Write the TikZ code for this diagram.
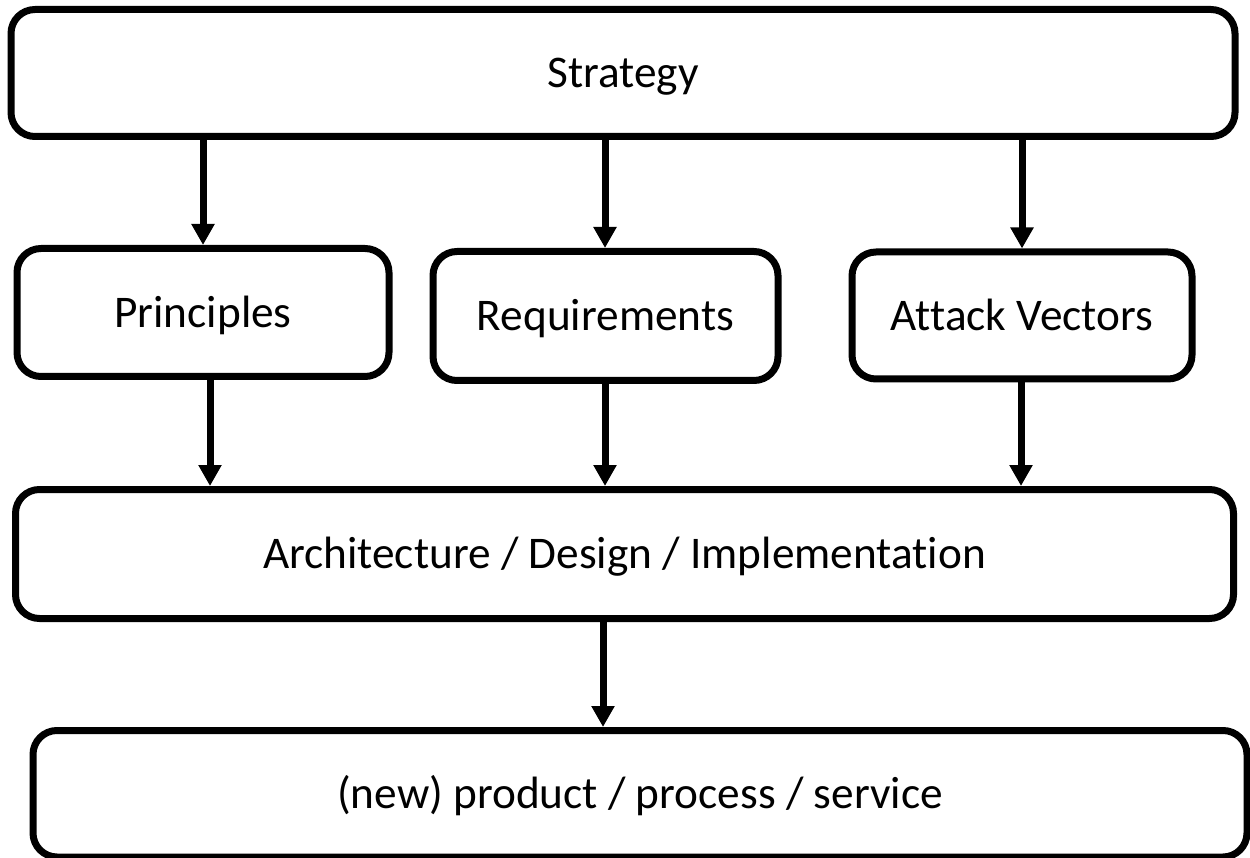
\documentclass[tikz,border=0pt]{standalone}
\usepackage{fontspec}
\setmainfont{Carlito}[RawFeature={-liga}]
\usetikzlibrary{arrows.meta}

\begin{document}
\begin{tikzpicture}[x=1pt,y=-1pt,
  box/.style={draw=black, line width=7pt, rounded corners=24pt, fill=white,
    inner sep=0pt, text height=29.2pt, text depth=0pt,
    font=\fontsize{45.3}{54}\selectfont},
  arr/.style={line width=7pt, -{Triangle[length=21pt,width=22pt]}}]
  \clip (0,0) rectangle (1250,858);
  \useasboundingbox (0,0) rectangle (1250,858);

  \node[box, minimum width=1224pt, minimum height=127pt] (strat) at (623,73) {Strategy};
  \node[box, minimum width=372pt, minimum height=128pt] (prin) at (203,312.5) {Principles};
  \node[box, minimum width=345pt, minimum height=129pt] (req) at (605.5,316) {Requirements};
  \node[box, minimum width=340pt, minimum height=127pt] (att) at (1022,315.5) {Attack Vectors};
  \node[box, minimum width=1218pt, minimum height=129pt] (arch) at (624.5,554) {Architecture / Design / Implementation};
  \node[box, minimum width=1214pt, minimum height=126.5pt] (prod) at (640,793.75) {(new) product / process / service};

  % strategy feeds the three middle boxes
  \draw[arr] (strat.south -| 203,0) -- (prin.north -| 203,0);
  \draw[arr] (strat.south -| 605,0) -- (req.north -| 605,0);
  \draw[arr] (strat.south -| 1022,0) -- (att.north -| 1022,0);

  % middle boxes feed the architecture
  \draw[arr] (prin.south -| 210,0) -- (arch.north -| 210,0);
  \draw[arr] (req.south -| 605,0) -- (arch.north -| 605,0);
  \draw[arr] (att.south -| 1021,0) -- (arch.north -| 1021,0);

  % architecture leads to the product
  \draw[arr] (arch.south -| 603,0) -- (prod.north -| 603,0);
\end{tikzpicture}
\end{document}
